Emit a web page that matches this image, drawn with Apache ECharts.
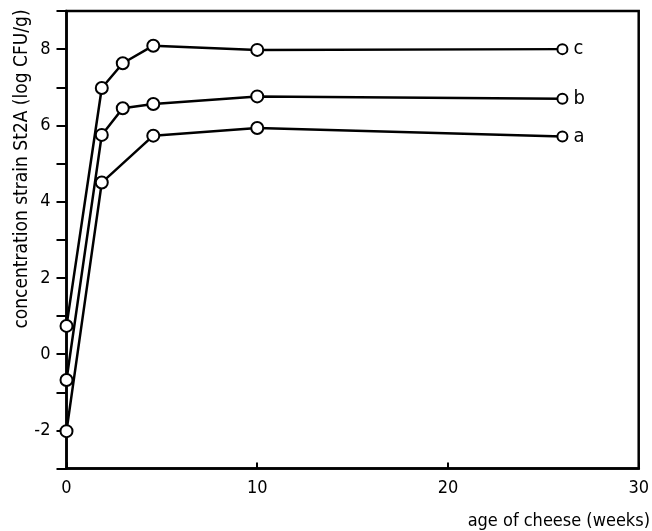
<!DOCTYPE html>
<html>
<head>
<meta charset="utf-8">
<script src="https://cdn.jsdelivr.net/npm/echarts@6/dist/echarts.min.js"></script>
<style>
html,body{margin:0;padding:0;background:#fff;}
#chart{width:652px;height:531px;}
</style>
</head>
<body>
<div id="chart"></div>
<script>
// ---- data ----
var weeksBC = [0, 1.85, 2.95, 4.55, 10, 26];
var weeksA  = [0, 1.85, 4.55, 10, 26];
var seriesC = [0.74, 6.98, 7.63, 8.09, 7.98, 8.0];
var seriesB = [-0.68, 5.75, 6.45, 6.56, 6.76, 6.70];
var seriesA = [-2.02, 4.5, 5.73, 5.93, 5.71];
var seriesNames = ['a', 'b', 'c'];
var xTicks = [0, 10, 20, 30];
var yTicks = [-2, 0, 2, 4, 6, 8];
var xTitle = 'age of cheese (weeks)';
var yTitle = 'concentration strain St2A (log CFU/g)';

var FONT = "'Liberation Sans Narrow', 'DejaVu Sans Condensed', sans-serif";

function pairs(xs, ys) { return xs.map(function (x, i) { return [x, ys[i]]; }); }

function mkSeries(name, xs, ys) {
  var last = ys.length - 1;
  return {
    name: name,
    type: 'line',
    data: pairs(xs, ys),
    clip: false,
    symbol: 'circle',
    symbolSize: function (v, p) { return p.dataIndex === last ? 10 : 12; },
    itemStyle: { color: '#fff', borderColor: '#000', borderWidth: 2 },
    lineStyle: { color: '#000', width: 2.5 },
    endLabel: {
      show: true, formatter: name, color: '#000',
      fontFamily: FONT, fontSize: 20, distance: 11
    },
    emphasis: { disabled: true },
    animation: false
  };
}

var chart = echarts.init(document.getElementById('chart'), null, { renderer: 'canvas' });
chart.setOption({
  backgroundColor: '#fff',
  animation: false,
  grid: { left: 66.5, right: 9, top: 11, bottom: 62.5, show: true, borderColor: '#000', borderWidth: 2.5, backgroundColor: 'transparent' },
  xAxis: {
    type: 'value', min: 0, max: 30, interval: 10,
    axisLine: { onZero: false, lineStyle: { color: '#000', width: 2.5 } },
    axisTick: { inside: true, length: 6, lineStyle: { color: '#000', width: 2 } },
    axisLabel: {
      color: '#000', fontFamily: FONT, fontSize: 18, margin: 11,
      formatter: function (v) { return xTicks.indexOf(v) >= 0 ? String(v) : ''; }
    },
    splitLine: { show: false }
  },
  yAxis: {
    type: 'value', min: -3, max: 9, interval: 1,
    axisLine: { onZero: false, lineStyle: { color: '#000', width: 2.5 } },
    axisTick: { inside: false, length: 10, lineStyle: { color: '#000', width: 2 } },
    axisLabel: {
      color: '#000', fontFamily: FONT, fontSize: 18, margin: 16,
      formatter: function (v) { return yTicks.indexOf(v) >= 0 ? String(v) : ''; }
    },
    splitLine: { show: false }
  },
  graphic: [
    {
      type: 'text', x: 22, y: 169, rotation: Math.PI / 2,
      style: { text: yTitle, fill: '#000', font: '19px ' + FONT, textAlign: 'center', textVerticalAlign: 'middle' }
    },
    {
      type: 'text', x: 650, y: 521,
      style: { text: xTitle, fill: '#000', font: '18px ' + FONT, textAlign: 'right', textVerticalAlign: 'middle' }
    }
  ],
  series: [
    mkSeries(seriesNames[0], weeksA, seriesA),
    mkSeries(seriesNames[1], weeksBC, seriesB),
    mkSeries(seriesNames[2], weeksBC, seriesC)
  ]
});
</script>
</body>
</html>
